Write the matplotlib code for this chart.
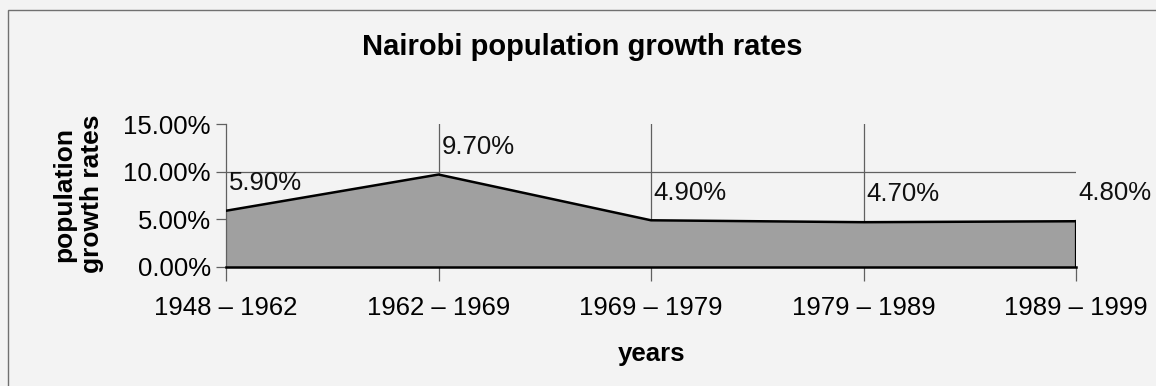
import matplotlib
matplotlib.use("Agg")
import matplotlib.pyplot as plt
import matplotlib.patches as patches
from matplotlib.ticker import FuncFormatter

plt.rcParams['font.family'] = ['Liberation Sans', 'DejaVu Sans']

# Nairobi growth rates per census period
periods = ['1948 – 1962', '1962 – 1969', '1969 – 1979', '1979 – 1989', '1989 – 1999']
rates = [0.059, 0.097, 0.049, 0.047, 0.048]
labels = ['5.90%', '9.70%', '4.90%', '4.70%', '4.80%']

W, H = 1156, 386
fig = plt.figure(figsize=(W / 100, H / 100), dpi=100)
fig.patch.set_facecolor('#f3f3f3')

# chart frame (runs off the right and bottom edges)
fig.add_artist(patches.Rectangle((8 / W, -10 / H), 1160 / W, 386 / H,
                                 transform=fig.transFigure, fill=False,
                                 edgecolor='#707070', linewidth=1.0))

# plot area in pixel terms
x0, x1, y0, y1 = 226, 1076, 267, 124
ax = fig.add_axes([x0 / W, (H - y0) / H, (x1 - x0) / W, (y0 - y1) / H])
ax.set_facecolor('#f3f3f3')

xs = list(range(len(rates)))
ax.set_xlim(0, len(rates) - 1)
ax.set_ylim(0, 0.15)

# gridlines
ax.axhline(0.10, color='#606060', linewidth=0.9, zorder=1)
for x in xs[1:-1]:
    ax.axvline(x, color='#606060', linewidth=0.9, zorder=1)

ax.fill_between(xs, rates, 0, facecolor='#a0a0a0', edgecolor='none', zorder=2)
ax.plot(xs, rates, color='black', linewidth=1.8, zorder=3)
ax.plot([xs[-1], xs[-1]], [0, rates[-1]], color='black', linewidth=1.6, zorder=3)

for x, r, t in zip(xs, rates, labels):
    ax.annotate(t, (x, r), xytext=(2, 20), textcoords='offset points',
                ha='left', va='center', fontsize=18.5, color='#111111', zorder=4)

ax.set_yticks([0, 0.05, 0.10, 0.15])
ax.yaxis.set_major_formatter(FuncFormatter(lambda v, p: f'{v * 100:.2f}%'))
ax.set_xticks(xs)
ax.set_xticklabels(periods)
ax.tick_params(axis='y', direction='out', length=7, width=0.9, color='#606060',
               labelsize=18.5, pad=4)
ax.tick_params(axis='x', direction='out', length=10, width=0.9, color='#606060',
               labelsize=18.5, pad=11)

for side in ['top', 'right']:
    ax.spines[side].set_visible(False)
ax.spines['left'].set_color('#606060')
ax.spines['left'].set_linewidth(0.9)
ax.spines['bottom'].set_color('black')
ax.spines['bottom'].set_linewidth(1.8)
ax.spines['bottom'].set_zorder(3)

fig.text(582 / W, 1 - 47 / H, 'Nairobi population growth rates',
         ha='center', va='center', fontsize=21, fontweight='bold')
fig.text(651 / W, 1 - 354 / H, 'years', ha='center', va='center',
         fontsize=18.5, fontweight='bold')
fig.text(78 / W, 1 - 194 / H, 'population\ngrowth rates', ha='center', va='center',
         rotation=90, fontsize=19, fontweight='bold', linespacing=1.2)

fig.savefig('out.png', dpi=100, facecolor=fig.get_facecolor())
